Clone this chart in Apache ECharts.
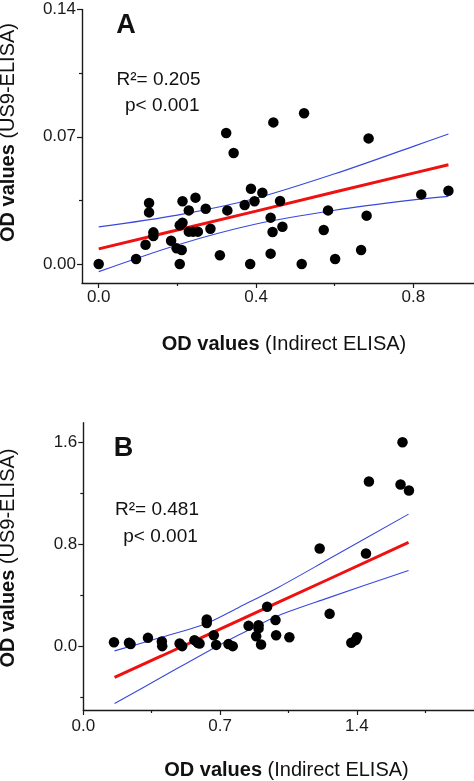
<!DOCTYPE html>
<html>
<head>
<meta charset="utf-8">
<script src="https://cdn.jsdelivr.net/npm/echarts@6/dist/echarts.min.js"></script>
<style>
html,body{margin:0;padding:0;background:#fff;}
#chart{width:474px;height:781px;}
</style>
</head>
<body>
<div id="chart"></div>
<script>
// ---------- Panel A data ----------
const aX = [0.000,0.095,0.119,0.128,0.128,0.139,0.139,0.184,0.198,0.206,0.206,0.213,0.213,0.211,0.229,0.229,0.240,0.252,0.246,0.272,0.284,0.308,0.324,0.327,0.343,0.371,0.385,0.387,0.396,0.416,0.437,0.437,0.442,0.444,0.461,0.467,0.516,0.522,0.572,0.583,0.601,0.667,0.681,0.686,0.820,0.889];
const aY = [0.0000,0.0028,0.0106,0.0336,0.0284,0.0174,0.0154,0.0128,0.0086,0.0000,0.0213,0.0227,0.0345,0.0077,0.0295,0.0178,0.0178,0.0178,0.0365,0.0304,0.0194,0.0048,0.0721,0.0295,0.0611,0.0325,0.0000,0.0414,0.0345,0.0392,0.0057,0.0255,0.0176,0.0779,0.0347,0.0205,0.0000,0.0829,0.0187,0.0295,0.0028,0.0077,0.0266,0.0691,0.0383,0.0403];
const aFitX   = [0, 0.2, 0.4, 0.6, 0.8, 0.889];
const aFit    = [0.0083, 0.0187, 0.0291, 0.0396, 0.0500, 0.0546];
const aUpper  = [0.0204, 0.0269, 0.0362, 0.0496, 0.0647, 0.0715];
const aLower  = [-0.0042, 0.0105, 0.0220, 0.0296, 0.0353, 0.0372];
const aXLabels = [0, 0.4, 0.8];
const aXMinor  = [0.2, 0.6];
const aYLabels = [0, 0.07, 0.14];
const aYMinor  = [0.035, 0.105];

// ---------- Panel B data ----------
const bX = [0.157,0.234,0.242,0.331,0.402,0.404,0.493,0.506,0.569,0.586,0.595,0.632,0.632,0.668,0.680,0.743,0.765,0.846,0.885,0.897,0.897,0.910,0.941,0.984,0.987,1.055,1.210,1.261,1.372,1.394,1.401,1.447,1.462,1.624,1.634,1.667];
const bY = [0.031,0.026,0.016,0.065,0.037,0.000,0.021,0.000,0.047,0.026,0.021,0.209,0.182,0.086,0.010,0.016,0.000,0.159,0.078,0.164,0.139,0.013,0.308,0.204,0.086,0.070,0.765,0.253,0.026,0.047,0.070,0.726,1.290,1.266,1.597,1.219];
const bFitX  = [0.16, 0.4, 0.63, 0.8, 1.0, 1.25, 1.665];
const bFit   = [-0.245, -0.077, 0.085, 0.204, 0.345, 0.520, 0.812];
const bUpper = [-0.037, 0.069, 0.178, 0.307, 0.462, 0.676, 1.034];
const bLower = [-0.449, -0.244, -0.047, 0.091, 0.240, 0.376, 0.593];
const bXLabels = [0, 0.7, 1.4];
const bXMinor  = [0.35, 1.05, 1.75];
const bYLabels = [0, 0.8, 1.6];
const bYMinor  = [-0.4, 0.4, 1.2];

const annA = ['R\u00b2= 0.205', 'p< 0.001'];
const annB = ['R\u00b2= 0.481', 'p< 0.001'];
const xTitle = 'OD values';
const xTitleRest = ' (Indirect ELISA)';
const yTitleRest = ' (US9-ELISA)';

// ---------- build ----------
const FONT = '"Liberation Sans", Arial, sans-serif';
const AX = '#1a1a1a';
const zip = (xs, ys) => xs.map((x, i) => [x, ys[i]]);

function majorAxis(grid, min, max, labels, fmtDigits, margin, isY) {
  return {
    gridIndex: grid, type: 'value', min: min, max: max,
    axisLine: { show: true, onZero: false, lineStyle: { color: AX, width: 1.4 } },
    splitLine: { show: false },
    axisTick: { show: true, inside: false, length: 5, customValues: labels, lineStyle: { color: AX, width: 1.2 } },
    axisLabel: { show: true, customValues: labels, margin: margin, fontSize: 17, color: AX, fontFamily: FONT,
      formatter: v => Number(v).toFixed(fmtDigits) },
    position: isY ? 'left' : 'bottom'
  };
}
function minorAxis(grid, min, max, ticks, isY) {
  return {
    gridIndex: grid, type: 'value', min: min, max: max,
    axisLine: { show: false, onZero: false },
    splitLine: { show: false },
    axisTick: { show: true, inside: false, length: 3, customValues: ticks, lineStyle: { color: AX, width: 1.2 } },
    axisLabel: { show: false },
    position: isY ? 'left' : 'bottom', offset: 0
  };
}

const lineStyleBlue = { color: '#3a48dc', width: 1.1 };
const lineStyleRed = { color: '#f01010', width: 3 };
function lineSeries(xi, yi, xs, ys, style) {
  return { type: 'line', xAxisIndex: xi, yAxisIndex: yi, data: zip(xs, ys), showSymbol: false, symbol: 'none',
    lineStyle: style, smooth: 0.3, clip: false, z: 3, silent: true };
}

function titleRich(bold, rest, x, y, rot) {
  const el = {
    type: 'text', x: x, y: y,
    style: {
      text: '{b|' + bold + '}' + rest,
      font: '20px ' + FONT, fill: '#111',
      align: 'center', verticalAlign: 'middle',
      rich: { b: { fontWeight: 'bold', fontSize: 20, fontFamily: FONT, fill: '#111' } }
    }
  };
  if (rot) el.rotation = Math.PI / 2;
  return el;
}
function txt(t, x, y, font, align) {
  return { type: 'text', x: x, y: y, style: { text: t, font: font, fill: '#111', align: align || 'left', verticalAlign: 'middle' } };
}

const dotStyle = { color: '#000', opacity: 1 };

const option = {
  animation: false,
  backgroundColor: '#fff',
  grid: [
    { left: 82, top: 9.5, width: 392, height: 273.5 },
    { left: 83.3, top: 422.7, width: 390.7, height: 287.3 }
  ],
  xAxis: [
    majorAxis(0, -0.0425, 0.954, aXLabels, 1, 6, false),
    minorAxis(0, -0.0425, 0.954, aXMinor, false),
    majorAxis(1, 0, 2.0, bXLabels, 1, 8, false),
    minorAxis(1, 0, 2.0, bXMinor, false)
  ],
  yAxis: [
    majorAxis(0, -0.01045, 0.14, aYLabels, 2, 6, true),
    minorAxis(0, -0.01045, 0.14, aYMinor, true),
    majorAxis(1, -0.5, 1.75, bYLabels, 1, 6, true),
    minorAxis(1, -0.5, 1.75, bYMinor, true)
  ],
  series: [
    { type: 'scatter', xAxisIndex: 0, yAxisIndex: 0, data: zip(aX, aY), symbolSize: 10.5, itemStyle: dotStyle, z: 5, silent: true },
    lineSeries(0, 0, aFitX, aUpper, lineStyleBlue),
    lineSeries(0, 0, aFitX, aLower, lineStyleBlue),
    Object.assign(lineSeries(0, 0, aFitX, aFit, lineStyleRed), { smooth: false, z: 4 }),
    { type: 'scatter', xAxisIndex: 2, yAxisIndex: 2, data: zip(bX, bY), symbolSize: 10.5, itemStyle: dotStyle, z: 5, silent: true },
    lineSeries(2, 2, bFitX, bUpper, lineStyleBlue),
    lineSeries(2, 2, bFitX, bLower, lineStyleBlue),
    Object.assign(lineSeries(2, 2, bFitX, bFit, lineStyleRed), { smooth: false, z: 4 })
  ],
  graphic: [
    txt('A', 126, 26, 'bold 27px ' + FONT, 'center'),
    txt(annA[0], 116.5, 80, '19px ' + FONT),
    txt(annA[1], 125, 106, '19px ' + FONT),
    txt('B', 123.5, 449, 'bold 27px ' + FONT, 'center'),
    txt(annB[0], 115, 510, '19px ' + FONT),
    txt(annB[1], 123.3, 536.5, '19px ' + FONT),
    titleRich(xTitle, xTitleRest, 284, 344, false),
    titleRich(xTitle, xTitleRest, 286.5, 770.5, false),
    titleRich(xTitle, yTitleRest, 8.5, 132.5, true),
    titleRich(xTitle, yTitleRest, 8.5, 558, true)
  ]
};

const chart = echarts.init(document.getElementById('chart'), null, { renderer: 'canvas' });
chart.setOption(option);
</script>
</body>
</html>
